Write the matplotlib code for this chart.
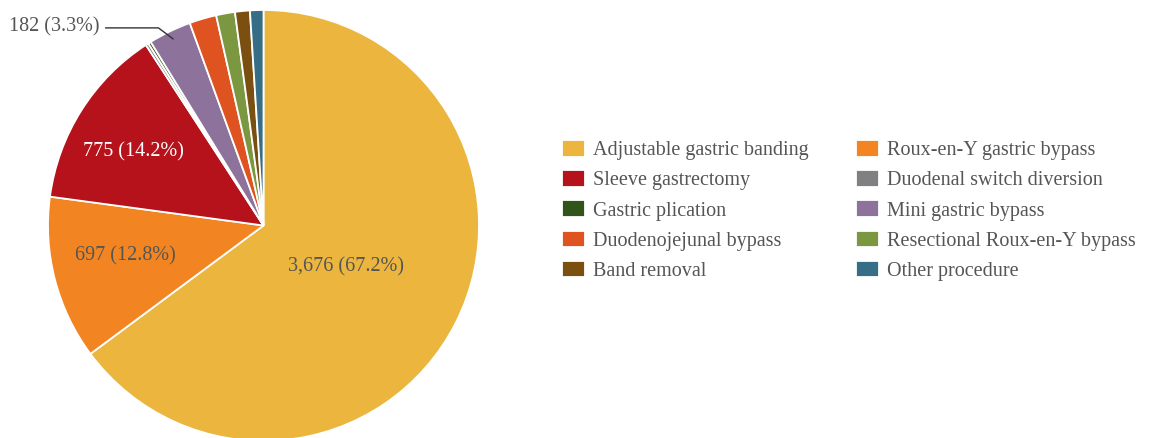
import matplotlib.pyplot as plt
import numpy as np

plt.rcParams['font.family'] = ['Liberation Serif', 'DejaVu Serif']

procedures = ['Adjustable gastric banding', 'Roux-en-Y gastric bypass', 'Sleeve gastrectomy',
              'Duodenal switch diversion', 'Gastric plication', 'Mini gastric bypass',
              'Duodenojejunal bypass', 'Resectional Roux-en-Y bypass', 'Band removal',
              'Other procedure']
counts = [3676, 697, 775, 12, 12, 182, 115, 80, 63, 57]
percents = [67.2, 12.8, 14.2, None, None, 3.3, None, None, None, None]
colors = ['#EBB53E', '#F28522', '#B5121B', '#808083', '#315418', '#8D739B',
          '#DE5320', '#7B9841', '#7A4F10', '#356E86']

W, H = 1158, 438
fig = plt.figure(figsize=(W / 100, H / 100), dpi=100)
FS = 14.5

# square axes so the pie sits at (263, 225) px with radius ~215 px
cx, cy, r = 263.5, 225.5, 215.5
ax = fig.add_axes([(cx - r) / W, (H - cy - r) / H, 2 * r / W, 2 * r / H])

wedges, _ = ax.pie(counts, colors=colors, startangle=90, counterclock=False,
                   wedgeprops=dict(edgecolor='white', linewidth=1.3))
ax.set_xlim(-1, 1)
ax.set_ylim(-1, 1)
ax.set_aspect('equal')
ax.axis('off')


def mid_point(w, dist):
    a = np.deg2rad((w.theta1 + w.theta2) / 2)
    return dist * np.cos(a), dist * np.sin(a)


# labels inside the three big slices: distance from centre, nudge, colour
inside = {0: (0.43, (0.0, 0.0), '#555555'),
          1: (0.66, (0.0, 0.023), '#555555'),
          2: (0.70, (-0.014, -0.032), 'white')}
for i, (dist, (dx, dy), col) in inside.items():
    x, y = mid_point(wedges[i], dist)
    ax.text(x + dx, y + dy, f'{counts[i]:,} ({percents[i]}%)', ha='center', va='center',
            fontsize=FS, color=col)

# mini gastric bypass label with leader line
ex, ey = mid_point(wedges[5], 0.96)
ax.plot([-0.735, ex - 0.07, ex], [0.917, 0.917, ey], color='#333333', lw=1,
        clip_on=False, solid_capstyle='butt')
ax.text(-0.76, 0.921, f'{counts[5]} ({percents[5]}%)', ha='right', va='center',
        fontsize=FS, color='#555555')

order = [0, 2, 4, 6, 8, 1, 3, 5, 7, 9]
fig.legend([wedges[i] for i in order], [procedures[i] for i in order],
           loc='upper left', bbox_to_anchor=(562 / W, 1 - 140 / H), ncol=2,
           frameon=False, fontsize=FS, labelcolor='#555555',
           handlelength=1.14, handleheight=0.9, handletextpad=0.4,
           labelspacing=0.49, columnspacing=2.36, borderpad=0, borderaxespad=0)

fig.savefig('out.png', dpi=100)
